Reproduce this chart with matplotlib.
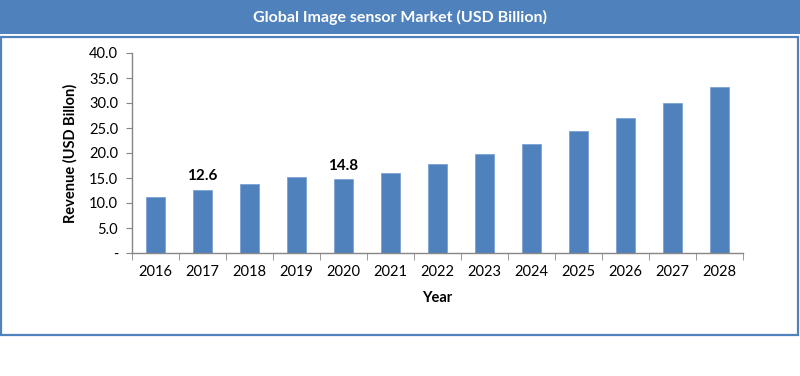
import matplotlib
matplotlib.use("Agg")
import matplotlib.pyplot as plt
from matplotlib.patches import Rectangle
import numpy as np

years = ["2016", "2017", "2018", "2019", "2020", "2021", "2022",
         "2023", "2024", "2025", "2026", "2027", "2028"]
revenue = [11.3, 12.6, 13.9, 15.3, 14.8, 16.1, 17.9, 19.8, 21.9, 24.4, 27.0, 30.0, 33.3]
labelled = {"2017": "12.6", "2020": "14.8"}
yticks = [0, 5, 10, 15, 20, 25, 30, 35, 40]
ytick_labels = ["-", "5.0", "10.0", "15.0", "20.0", "25.0", "30.0", "35.0", "40.0"]

blue = "#4F81BD"
plt.rcParams['font.family'] = ['Lato', 'DejaVu Sans']

fig = plt.figure(figsize=(8, 3.76), dpi=100)
fig.patch.set_facecolor("white")

# title band and frame
fig.patches.append(Rectangle((0, 1 - 34/376), 1, 34/376, transform=fig.transFigure,
                             facecolor=blue, edgecolor="none", zorder=0))
fig.patches.append(Rectangle((1/800, 1 - 335/376), 797/800, (335 - 37)/376, transform=fig.transFigure,
                             facecolor="none", edgecolor=blue, linewidth=1.6, zorder=0))
fig.text(0.5, 1 - 17/376, "Global Image sensor Market (USD Billion)", color="white",
         fontsize=11.5, fontweight="bold", ha="center", va="center")

ax = fig.add_axes([132/800, 1 - 253/376, (743 - 132)/800, 200/376])
x = np.arange(len(years))
ax.bar(x, revenue, width=0.4, color=blue, edgecolor="#7BA3D3", linewidth=0.6, zorder=2)
for i, (yr, v) in enumerate(zip(years, revenue)):
    if yr in labelled:
        ax.text(i, v + 1.3, labelled[yr], ha="center", va="bottom",
                fontsize=11, fontweight="bold")

ax.set_xlim(-0.5, len(years) - 0.5)
ax.set_ylim(0, 40)
ax.set_yticks(yticks)
ax.set_yticklabels(ytick_labels)
ax.set_xticks(x)
ax.set_xticklabels(years)
ax.set_xticks(np.arange(-0.5, len(years)), minor=True)
ax.tick_params(axis="x", which="major", length=0, pad=9, labelsize=10.5)
ax.tick_params(axis="x", which="minor", length=5, color="#868686", direction="out")
ax.tick_params(axis="y", length=4, color="#868686", direction="out", labelsize=10.5, pad=6)

for s in ["top", "right"]:
    ax.spines[s].set_visible(False)
for s in ["left", "bottom"]:
    ax.spines[s].set_color("#868686")
    ax.spines[s].set_linewidth(1.0)

ax.set_xlabel("Year", fontsize=10.5, fontweight="bold", labelpad=8)
ax.set_ylabel("Revenue (USD Billon)", fontsize=10.5, fontweight="bold", labelpad=8)

fig.savefig("out.png", dpi=100)
